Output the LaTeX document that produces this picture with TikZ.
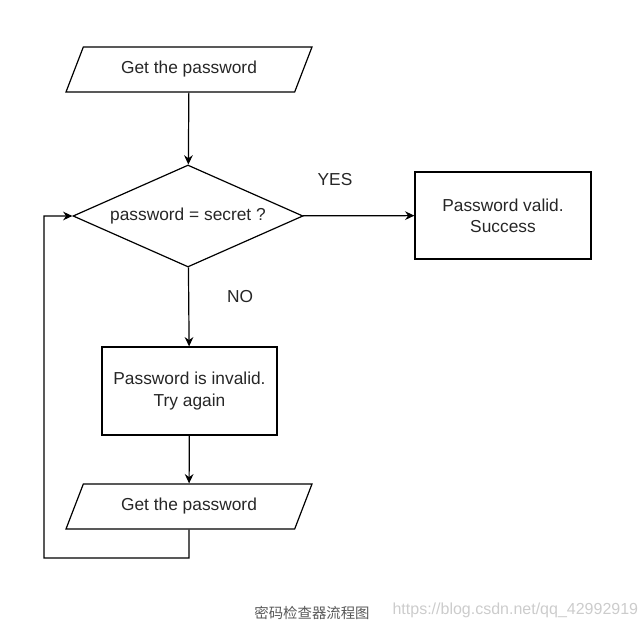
\documentclass[tikz,border=0pt]{standalone}
\usepackage{fontspec}
\setmainfont{Liberation Sans}
\newfontfamily\cjk{Noto Sans CJK SC}
\usetikzlibrary{shapes.geometric,arrows.meta}

\tikzset{every picture/.style={line width=0.9pt}}
\tikzset{
  io/.style={draw, trapezium, trapezium left angle=43, trapezium right angle=137,
    trapezium stretches body, minimum width=184.5pt, minimum height=33.75pt,
    inner sep=0pt, text=black!85, font=\fontsize{13}{15}\selectfont},
  decide/.style={draw, diamond, aspect=2.25, minimum width=172.5pt, minimum height=76.5pt,
    inner sep=0pt, text=black!85, font=\fontsize{13}{15}\selectfont},
  stepbox/.style={draw, rectangle, align=center, inner sep=0pt, text=black!85,
    font=\fontsize{13}{16}\selectfont},
  lbl/.style={inner sep=0pt, text=black!85, font=\fontsize{13}{15}\selectfont},
  flow/.style={-{Stealth[length=7pt,width=6.5pt]}}
}

\begin{document}
\begin{tikzpicture}[x=0.75pt,y=0.75pt,yscale=-1,xscale=1]
\useasboundingbox (0,0) rectangle (644,627);

%Input: first password
\node [io] (get1) at (189,69.5) {Get the password};
%Decision
\node [decide] (check) at (188,216) {password = secret ?};
%Process: valid
\node [stepbox, minimum width=132pt, minimum height=65.25pt] (valid) at (503,215.5) {Password valid.\\Success};
%Process: invalid
\node [stepbox, minimum width=131.25pt, minimum height=66pt] (invalid) at (189.5,391) {Password is invalid.\\Try again};
%Input: second password
\node [io] (get2) at (189,506.5) {Get the password};

%Loop corners
\coordinate (loopA) at (189,558);
\coordinate (loopB) at (44,558);
\coordinate (loopC) at (44,216);

%Connectors
\draw [flow] (get1) -- (check);
\draw [flow] (check) -- (valid);
\draw [flow] (check) -- (invalid);
\draw [flow] (invalid) -- (get2);
\draw [flow] (get2.south) -- (loopA) -- (loopB) -- (loopC) -- (check.west);

% Text Node
\node [lbl] (yes) at (335,180) {YES};
% Text Node
\node [lbl] (no) at (240,297) {NO};

% Caption
\node [inner sep=0pt, text=black!65, font=\cjk\fontsize{10.8}{12}\selectfont] (caption) at (312,613) {密码检查器流程图};
\node [inner sep=0pt, anchor=west, text=black!20, font=\fontsize{12}{14}\selectfont] (mark) at (392,610) {https://blog.csdn.net/qq\_42992919};

\end{tikzpicture}
\end{document}
